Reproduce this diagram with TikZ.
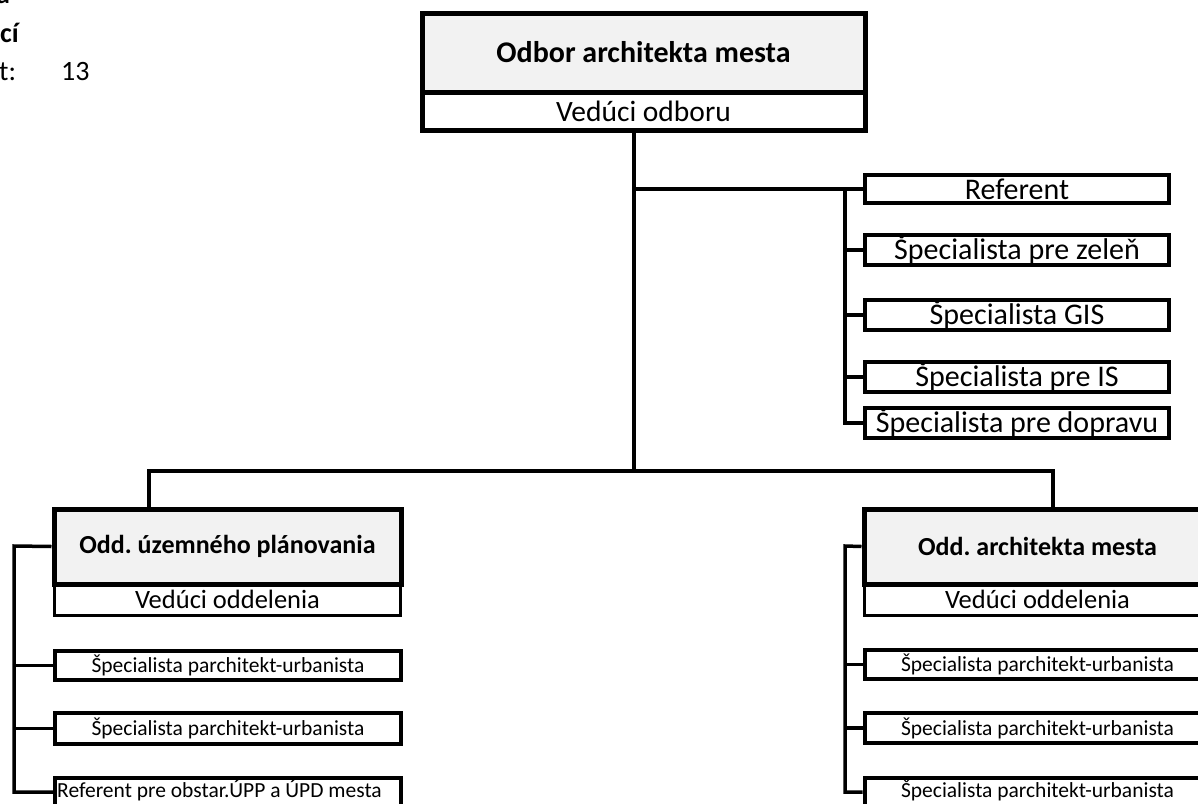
\documentclass[tikz,border=0pt]{standalone}
\usepackage{fontspec}
\setmainfont{Carlito}
\begin{document}
\frenchspacing
\begin{tikzpicture}[x=1pt,y=-1pt,
  bigtxt/.style={font=\fontsize{29.5}{34}\selectfont},
  depttxt/.style={font=\fontsize{26.5}{31}\selectfont},
  smalltxt/.style={font=\fontsize{21.5}{25}\selectfont},
  graybox/.style={draw, line width=5pt, fill=boxgray, inner sep=0pt},
  headw/.style={draw, line width=3pt, fill=white, inner sep=0pt, depttxt},
  topw/.style={draw, line width=5pt, fill=white, inner sep=0pt, bigtxt},
  childbig/.style={draw, line width=4pt, fill=white, inner sep=0pt, minimum width=304pt, minimum height=28pt, font=\fontsize{30}{34}\selectfont},
  childsmall/.style={draw, line width=4pt, fill=white, inner sep=0pt, minimum width=346pt, minimum height=29pt, smalltxt},
  conn/.style={line width=3.5pt}]
\definecolor{boxgray}{HTML}{F2F2F2}
\useasboundingbox (0,0) rectangle (1198,803);
\clip (0,0) rectangle (1198,803);
\fill[white] (0,0) rectangle (1198,803);

% top-left remnants
\node[anchor=base west, inner sep=0pt, font=\fontsize{28}{32}\selectfont\bfseries] (ta) at (-4,4) {a};
\node[anchor=base west, inner sep=0pt, font=\fontsize{28}{32}\selectfont\bfseries] (tci) at (0,42) {cí};
\node[anchor=base west, inner sep=0pt, font=\fontsize{28}{32}\selectfont] (tt) at (-1,80) {t:};
\node[anchor=base west, inner sep=0pt, font=\fontsize{28}{32}\selectfont] (t13) at (61,80) {13};

% coordinates for the tree
\coordinate (j0) at (634,471);
\coordinate (jl) at (149,471);
\coordinate (jr) at (1053,471);
\coordinate (bx) at (845,189);
\coordinate (blx) at (14,546);
\coordinate (brx) at (845,546);

% top box
\node[topw, minimum width=443pt, minimum height=38pt] (topv) at (643.5,111) {Vedúci odboru};
\node[graybox, minimum width=443pt, minimum height=79pt, font=\fontsize{30}{34}\selectfont\bfseries] (topg) at (643.5,52.5) {Odbor architekta mesta};

% right staff
\node[childbig] (r1) at (1017,189) {Referent};
\node[childbig] (r2) at (1017,250) {Špecialista pre zeleň};
\node[childbig] (r3) at (1017,315) {Špecialista GIS};
\node[childbig] (r4) at (1017,377) {Špecialista pre IS};
\node[childbig] (r5) at (1017,423) {Špecialista pre dopravu};

% left department
\node[headw, minimum width=346pt, minimum height=31pt] (lv) at (227.5,599.5) {Vedúci oddelenia};
\node[graybox, minimum width=347pt, minimum height=75pt, font=\fontsize{26}{31}\selectfont\bfseries] (lg) at (227.5,546.5) {Odd. územného plánovania};
\node[childsmall] (l1) at (228,665.5) {Špecialista parchitekt-urbanista};
\node[childsmall, minimum height=31pt] (l2) at (228,728.5) {Špecialista parchitekt-urbanista};
\node[childsmall] (l3) at (228,792) {};
\node[anchor=base west, inner sep=0pt, smalltxt] (l3t) at (57,797) {Referent pre obstar.ÚPP a ÚPD mesta};

% right department
\node[headw, minimum width=346pt, minimum height=31pt] (rv) at (1037.5,599.5) {Vedúci oddelenia};
\node[graybox, minimum width=347pt, minimum height=75pt, font=\fontsize{26}{31}\selectfont\bfseries] (rg) at (1037.5,546.5) {Odd. architekta mesta};
\node[childsmall] (m1) at (1037.5,664.5) {Špecialista parchitekt-urbanista};
\node[childsmall, minimum height=30pt] (m2) at (1037.5,728) {Špecialista parchitekt-urbanista};
\node[childsmall] (m3) at (1037.5,792) {};
\node[anchor=base, inner sep=0pt, smalltxt] (m3t) at (1037.5,797) {Špecialista parchitekt-urbanista};

% connectors
\draw[conn] (topv.south -| j0) -- (j0);
\draw[conn] (j0 |- r1.west) -- (r1.west);
\draw[conn] (bx) -- (bx |- r5.west) -- (r5.west);
\draw[conn] (bx |- r2.west) -- (r2.west);
\draw[conn] (bx |- r3.west) -- (r3.west);
\draw[conn] (bx |- r4.west) -- (r4.west);
\draw[conn, line join=miter] (jl |- lg.north) -- (jl) -- (jr) -- (jr |- rg.north);
% left bracket
\draw[conn] (lg.west) -- (blx) -- (blx |- l3.west) -- (l3.west);
\draw[conn] (blx |- l1.west) -- (l1.west);
\draw[conn] (blx |- l2.west) -- (l2.west);
% right bracket
\draw[conn] (rg.west) -- (brx) -- (brx |- m3.west) -- (m3.west);
\draw[conn] (brx |- m1.west) -- (m1.west);
\draw[conn] (brx |- m2.west) -- (m2.west);
\end{tikzpicture}
\end{document}
